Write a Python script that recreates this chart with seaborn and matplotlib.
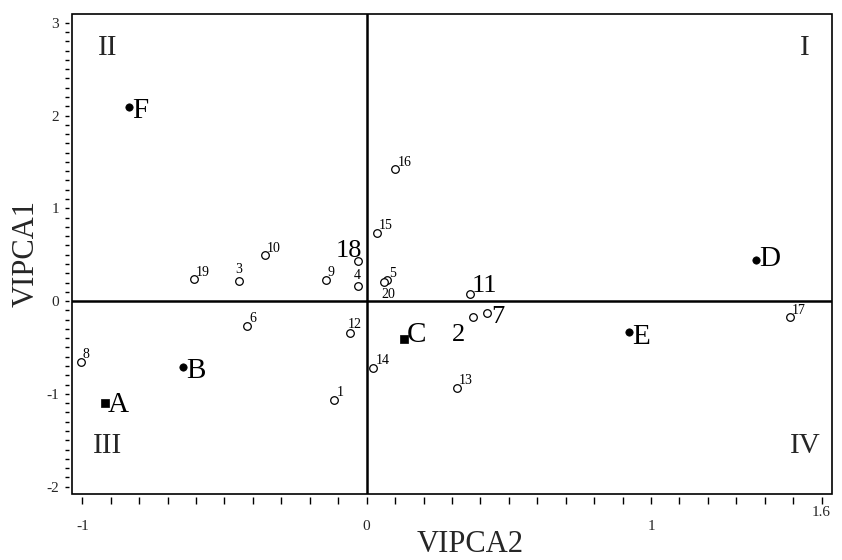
import matplotlib
matplotlib.use("Agg")
import matplotlib.pyplot as plt
import seaborn as sns
import pandas as pd
import numpy as np
from matplotlib.patches import Rectangle
from matplotlib.ticker import MultipleLocator, FixedLocator

# ---------------- data ----------------
genotypes = ["1", "2", "3", "4", "5", "6", "7", "8", "9", "10",
             "11", "12", "13", "14", "15", "16", "17", "18", "19", "20"]
geno_x = [-0.114, 0.375, -0.450, -0.032, 0.070, -0.420, 0.424, -1.005, -0.144, -0.359,
          0.363, -0.060, 0.316, 0.023, 0.035, 0.101, 1.488, -0.032, -0.607, 0.062]
geno_y = [-1.067, -0.176, 0.212, 0.162, 0.223, -0.269, -0.129, -0.654, 0.230, 0.492,
          0.072, -0.341, -0.934, -0.722, 0.736, 1.419, -0.177, 0.434, 0.234, 0.201]

environments = ["A", "B", "C", "D", "E", "F"]
env_x = [-0.919, -0.645, 0.131, 1.370, 0.924, -0.836]
env_y = [-1.102, -0.711, -0.409, 0.442, -0.331, 2.090]
env_marker = ["s", "o", "s", "o", "o", "o"]

quadrants = ["I", "II", "III", "IV"]
x_ticks = [-1, 0, 1]
y_ticks = [-2, -1, 0, 1, 2, 3]

# ---------------- style ----------------
sns.set_theme(style="white")
plt.rcParams["font.family"] = ["Liberation Serif", "DejaVu Serif"]

fig = plt.figure(figsize=(8.42, 5.60), dpi=100)
ax = fig.add_axes([0.0859, 0.1179, 0.9021, 0.8571])

geno_df = pd.DataFrame({"name": genotypes, "x": geno_x, "y": geno_y})
env_df = pd.DataFrame({"name": environments, "x": env_x, "y": env_y, "m": env_marker})

# reference lines
ax.axhline(0, color="black", lw=1.8, zorder=1)
ax.axvline(0, color="black", lw=1.8, zorder=1)

# genotypes: open circles
sns.scatterplot(data=geno_df, x="x", y="y", ax=ax, marker="o", s=30,
                facecolor="white", edgecolor="black", linewidth=0.9, zorder=3, legend=False)

# environments: filled markers
for mk in ["o", "s"]:
    sub = env_df[env_df["m"] == mk]
    sns.scatterplot(data=sub, x="x", y="y", ax=ax, marker=mk, s=28 if mk == "o" else 26,
                    color="black", edgecolor="black", linewidth=0.5, zorder=4, legend=False)

# genotype labels (offset in points, alignment, size)
big = {"18", "11", "7", "2"}
geno_style = {
    "2": (-6, -5, "right", "top"),
    "3": (0, 4, "center", "bottom"),
    "4": (0, 3, "center", "bottom"),
    "7": (3, -3, "left", "center"),
    "11": (1, -2, "left", "bottom"),
    "18": (3, -1, "right", "bottom"),
    "20": (-2, -4, "left", "top"),
    "12": (-1, 1, "left", "bottom"),
}
for n, x, y in zip(genotypes, geno_x, geno_y):
    dx, dy, ha, va = geno_style.get(n, (1.5, 0.5, "left", "bottom"))
    ax.annotate(n, (x, y), xytext=(dx, dy), textcoords="offset points",
                ha=ha, va=va, fontsize=19 if n in big else 10, color="black", zorder=5)

env_dy = {"A": -1, "B": -3, "C": 3, "D": 1, "E": -3.5, "F": -3}
for n, x, y in zip(environments, env_x, env_y):
    ax.annotate(n, (x, y), xytext=(2, env_dy[n]), textcoords="offset points",
                ha="left", va="center", fontsize=21, color="black", zorder=5)

# quadrant labels
quad_pos = {"I": (0.965, 0.93), "II": (0.047, 0.93), "III": (0.047, 0.10), "IV": (0.965, 0.10)}
for q in quadrants:
    qx, qy = quad_pos[q]
    ax.text(qx, qy, q, transform=ax.transAxes, ha="center", va="center", fontsize=21)

# axes
ax.set_xlim(-1.035, 1.636)
ax.set_ylim(-2.079, 3.094)
ax.xaxis.set_major_locator(FixedLocator(x_ticks))
ax.xaxis.set_minor_locator(MultipleLocator(0.1))
ax.yaxis.set_major_locator(FixedLocator(y_ticks))
ax.yaxis.set_minor_locator(MultipleLocator(0.1))
ax.set_xticklabels([str(t) for t in x_ticks], fontsize=11)
ax.set_yticklabels([str(t) for t in y_ticks], fontsize=11)
ax.text(1.6, -0.025, "1.6", transform=ax.get_xaxis_transform(), ha="center", va="top", fontsize=11)

ax.tick_params(axis="x", which="both", direction="out", length=5, width=1, color="black",
               bottom=True, pad=11)
ax.tick_params(axis="y", which="both", direction="out", length=3, width=1, color="black",
               left=True, pad=4)

for sp in ax.spines.values():
    sp.set_color("none")
ax.spines["bottom"].set_position(("outward", 2.5))
ax.spines["left"].set_position(("outward", 2.5))
ax.add_patch(Rectangle((0, 0), 1, 1, transform=ax.transAxes, fill=False,
                       edgecolor="black", lw=1.2, clip_on=False, zorder=6))

ax.set_xlabel("")
fig.text(470 / 842, 1 - 545 / 560, "VIPCA2", ha="center", va="center", fontsize=22)
ax.set_ylabel("VIPCA1", fontsize=22, labelpad=4)
ax.grid(False)

fig.savefig("out.png", dpi=100)
